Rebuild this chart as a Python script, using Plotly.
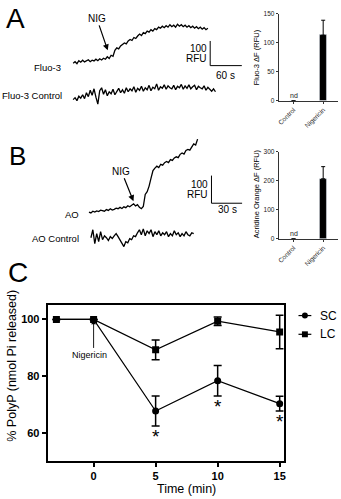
import plotly.graph_objects as go

W, H = 341, 499
FONT = "Liberation Sans"

# ---------------- data ----------------
# Panel A traces (RFU, sampled every fluo_dt seconds)
fluo_dt = 3.6
fluo3_rfu = [200, 206, 198, 210, 204, 212, 205, 208, 214, 206, 212, 209, 216, 210, 218, 213, 220, 216,
             226, 219, 232, 228, 252, 262, 258, 270, 276, 282, 278, 290, 296, 292, 304, 300, 310, 318,
             312, 324, 320, 330, 326, 336, 330, 340, 336, 346, 342, 350, 344, 352, 346, 356, 348, 354,
             346, 358, 350, 356, 348, 354, 346, 352, 344, 350, 342, 348, 340, 346, 338, 344, 336, 342]
fluo3_ctrl_rfu = [52, 60, 48, 66, 58, 72, 56, 80, 64, 90, 70, 96, 62, 34, 88, 100, 74, 92, 68, 84, 76, 94,
                  72, 86, 98, 80, 92, 78, 100, 84, 96, 88, 104, 82, 98, 90, 106, 86, 100, 92, 110, 88, 102,
                  96, 116, 90, 104, 98, 112, 94, 108, 100, 96, 110, 92, 106, 100, 114, 94, 108, 98, 112,
                  96, 104, 110, 92, 106, 100, 96, 108, 90, 102, 94, 86, 96, 84]
# Panel B traces (RFU, sampled every ao_dt seconds)
ao_dt = 1.9
ao_rfu = [157, 154, 160, 157, 161, 159, 164, 161, 160, 166, 163, 169, 164, 167, 171, 169, 174, 170, 176,
          173, 180, 176, 183, 187, 179, 184, 174, 169, 177, 221, 231, 251, 280, 307, 316, 323, 318, 330,
          327, 336, 340, 336, 347, 344, 353, 357, 354, 366, 371, 367, 380, 384, 381, 394, 404, 400, 421]
ao_ctrl_rfu = [64, 93, 43, 79, 50, 86, 57, 71, 64, 54, 68, 61, 71, 79, 68, 57, 43, 32, 50, 46, 61, 57, 71,
               68, 82, 93, 75, 96, 71, 89, 79, 93, 68, 86, 75, 89, 71, 82, 75, 86, 68, 79, 71, 89, 75, 82,
               68, 79, 71, 86, 75, 71, 82, 79]

# Scale bars
scale_rfu = 100
scale_a_s = 60
scale_b_s = 30

# Bar charts
bar_cats = ["Control", "Nigericin"]
fluo3_dF = [0, 113]
fluo3_dF_err = [None, 26]
ao_dF = [0, 207]
ao_dF_err = [None, 42]
fluo3_ticks = [0, 50, 100, 150]
ao_ticks = [0, 100, 200, 300]

# Panel C
time_min = [-3, 0, 5, 10, 15]
sc_polyp = [100, 100, 67.7, 78.4, 70.3]
sc_err = [0, 0, 5.3, 5.4, 2.6]
lc_polyp = [100, 100, 89.3, 99.4, 95.6]
lc_err = [0, 0, 3.5, 1.5, 5.9]
star_times = [5, 10, 15]
star_levels = [60.3, 70.8, 65.4]
c_xticks = [0, 5, 10, 15]
c_yticks = [60, 80, 100]


def px(x):
    return x / W


def py(y):
    return 1 - y / H


fig = go.Figure()
K = "black"

# ---- Panel A traces ----
fig.add_trace(go.Scatter(x=[i * fluo_dt for i in range(len(fluo3_rfu))], y=fluo3_rfu, mode="lines",
                         line=dict(color=K, width=1.3), xaxis="x", yaxis="y", showlegend=False))
fig.add_trace(go.Scatter(x=[i * fluo_dt for i in range(len(fluo3_ctrl_rfu))], y=fluo3_ctrl_rfu, mode="lines",
                         line=dict(color=K, width=1.3), xaxis="x", yaxis="y", showlegend=False))
# ---- Panel B traces ----
fig.add_trace(go.Scatter(x=[i * ao_dt for i in range(len(ao_rfu))], y=ao_rfu, mode="lines",
                         line=dict(color=K, width=1.3), xaxis="x2", yaxis="y2", showlegend=False))
fig.add_trace(go.Scatter(x=[(i + 1) * ao_dt for i in range(len(ao_ctrl_rfu))], y=ao_ctrl_rfu, mode="lines",
                         line=dict(color=K, width=1.3), xaxis="x2", yaxis="y2", showlegend=False))

# ---- Bars ----
fig.add_trace(go.Bar(x=bar_cats, y=fluo3_dF, width=0.25, marker_color=K,
                     error_y=dict(type="data", array=fluo3_dF_err, arrayminus=[None, 0], symmetric=False,
                                  color=K, thickness=1, width=2),
                     xaxis="x3", yaxis="y3", showlegend=False))
fig.add_trace(go.Bar(x=bar_cats, y=ao_dF, width=0.25, marker_color=K,
                     error_y=dict(type="data", array=ao_dF_err, arrayminus=[None, 0], symmetric=False,
                                  color=K, thickness=1, width=2),
                     xaxis="x4", yaxis="y4", showlegend=False))

# ---- Panel C ----
fig.add_trace(go.Scatter(x=time_min, y=lc_polyp, mode="lines+markers", name="LC",
                         line=dict(color=K, width=1.2), marker=dict(symbol="square", size=7, color=K),
                         error_y=dict(type="data", array=lc_err, color=K, thickness=1.5, width=4),
                         xaxis="x5", yaxis="y5", showlegend=False))
fig.add_trace(go.Scatter(x=time_min, y=sc_polyp, mode="lines+markers", name="SC",
                         line=dict(color=K, width=1.2), marker=dict(symbol="circle", size=7, color=K),
                         error_y=dict(type="data", array=sc_err, color=K, thickness=1.5, width=4),
                         xaxis="x5", yaxis="y5", showlegend=False))

hidden = dict(visible=False, showgrid=False, zeroline=False, fixedrange=True)
small = dict(family=FONT, size=6.5, color="#222")
c_tick = dict(family=FONT, size=11, color=K, weight="bold")

fig.update_layout(
    width=W, height=H, margin=dict(l=0, r=0, t=0, b=0),
    paper_bgcolor="white", plot_bgcolor="rgba(0,0,0,0)",
    font=dict(family=FONT, color=K),
    xaxis=dict(hidden, domain=[px(60), px(250)], range=[(60 - 72) * 1.875, (250 - 72) * 1.875], anchor="y"),
    yaxis=dict(hidden, domain=[py(110), py(10)], range=[0, 400], anchor="x"),
    xaxis2=dict(hidden, domain=[px(60), px(250)], range=[(60 - 88) * 0.968, (250 - 88) * 0.968], anchor="y2"),
    yaxis2=dict(hidden, domain=[py(255), py(125)], range=[0, 130 * 3.57], anchor="x2"),
    xaxis3=dict(domain=[px(280), px(340)], anchor="y3", type="category", range=[-0.5, 1.5],
                tickangle=-45, tickfont=small, showline=True, linecolor="#333", linewidth=1,
                ticks="outside", ticklen=2, tickcolor="#333", showgrid=False, zeroline=False),
    yaxis3=dict(domain=[py(98), py(10)], anchor="x3", range=[0, 150], tickvals=fluo3_ticks,
                tickfont=small, showline=True, linecolor="#333", linewidth=1, ticks="outside",
                ticklen=2, tickcolor="#333", showgrid=False, zeroline=False),
    xaxis4=dict(domain=[px(280), px(340)], anchor="y4", type="category", range=[-0.5, 1.5],
                tickangle=-45, tickfont=small, showline=True, linecolor="#333", linewidth=1,
                ticks="outside", ticklen=2, tickcolor="#333", showgrid=False, zeroline=False),
    yaxis4=dict(domain=[py(238), py(150)], anchor="x4", range=[0, 300], tickvals=ao_ticks,
                tickfont=small, showline=True, linecolor="#333", linewidth=1, ticks="outside",
                ticklen=2, tickcolor="#333", showgrid=False, zeroline=False),
    xaxis5=dict(domain=[px(47), px(285)], anchor="y5", range=[-3.64, 15.32], tickvals=c_xticks,
                tickfont=c_tick, showline=True, mirror=True, linecolor=K, linewidth=1.5,
                ticks="outside", ticklen=5, tickwidth=1.5, tickcolor=K, showgrid=False, zeroline=False),
    yaxis5=dict(domain=[py(463), py(305)], anchor="x5", range=[50.26, 105.2], tickvals=c_yticks,
                tickfont=c_tick, showline=True, mirror=True, linecolor=K, linewidth=1.5,
                ticks="outside", ticklen=5, tickwidth=1.5, tickcolor=K, showgrid=False, zeroline=False),
    bargap=0,
)

shapes = []
# scale bars, in data units
shapes.append(dict(type="line", xref="x", yref="y", x0=260, x1=260, y0=190, y1=190 + scale_rfu,
                   line=dict(color=K, width=1)))
shapes.append(dict(type="line", xref="x", yref="y", x0=260, x1=260 + scale_a_s, y0=190, y1=190,
                   line=dict(color=K, width=1)))
shapes.append(dict(type="line", xref="x2", yref="y2", x0=120, x1=120, y0=189, y1=189 + scale_rfu,
                   line=dict(color=K, width=1)))
shapes.append(dict(type="line", xref="x2", yref="y2", x0=120, x1=120 + scale_b_s, y0=189, y1=189,
                   line=dict(color=K, width=1)))
# manual legend
for yy, sym in [(316, "circle"), (335, "rect")]:
    shapes.append(dict(type="line", xref="paper", yref="paper", x0=px(300), x1=px(313), y0=py(yy), y1=py(yy),
                       line=dict(color=K, width=1.2)))
    shapes.append(dict(type=sym, xref="paper", yref="paper", x0=px(303.5), x1=px(309.5),
                       y0=py(yy + 3), y1=py(yy - 3), fillcolor=K, line=dict(color=K, width=0)))
fig.update_layout(shapes=shapes)

ann = []


def txt(x, y, t, size=10, xanchor="center", **kw):
    ann.append(dict(x=px(x), y=py(y), xref="paper", yref="paper", text=t, showarrow=False,
                    font=dict(family=FONT, size=size, color=K, weight="normal"),
                    xanchor=xanchor, yanchor="middle", **kw))


# panel letters
txt(14, 15, "A", 28)
txt(16, 154, "B", 26)
txt(16, 272, "C", 28)
# trace labels
txt(62, 64, "Fluo-3", 9.5, "right")
txt(63, 93, "Fluo-3 Control", 9.5, "right")
txt(80, 213, "AO", 9.5, "right")
txt(80, 238, "AO Control", 9.5, "right")
# scale labels
txt(209, 45, "100", 10, "right")
txt(209, 55, "RFU", 10, "right")
txt(226, 73, "60 s", 10)
txt(210, 183, "100", 10, "right")
txt(210, 193, "RFU", 10, "right")
txt(228, 208, "30 s", 10)
# NIG arrows
ann.append(dict(x=(107 - 72) * 1.875, y=252, xref="x", yref="y", text="NIG", showarrow=True,
                arrowhead=2, arrowsize=1, arrowwidth=1.2, arrowcolor=K, ax=-11, ay=-32,
                font=dict(family=FONT, size=10, color=K)))
ann.append(dict(x=(133 - 88) * 0.968, y=196, xref="x2", yref="y2", text="NIG", showarrow=True,
                arrowhead=2, arrowsize=1, arrowwidth=1.2, arrowcolor=K, ax=-12, ay=-30,
                font=dict(family=FONT, size=10, color=K)))
# bar chart titles / nd
txt(257, 54, "Fluo-3 ΔF (RFU)", 7.5, textangle=-90)
txt(257, 192, "Acridine Orange ΔF (RFU)", 7.5, textangle=-90)
ann.append(dict(x="Control", y=0, xref="x3", yref="y3", text="nd", showarrow=False, yanchor="bottom",
                font=dict(family=FONT, size=7, color="#222")))
ann.append(dict(x="Control", y=0, xref="x4", yref="y4", text="nd", showarrow=False, yanchor="bottom",
                font=dict(family=FONT, size=7, color="#222")))
# panel C texts
txt(10, 367, "% PolyP (nmol Pi released)", 12.5, textangle=-90)
txt(187, 492, "Time (min)", 12.5)
txt(320, 316, "SC", 12, "left")
txt(320, 335, "LC", 12, "left")
ann.append(dict(x=0, y=99.3, xref="x5", yref="y5", text="", showarrow=True, arrowhead=1, arrowsize=1,
                arrowwidth=0.9, arrowcolor=K, ax=0, ay=28))
ann.append(dict(x=-0.37, y=87.5, xref="x5", yref="y5", text="Nigericin", showarrow=False,
                font=dict(family=FONT, size=9, color=K)))
for t, lv in zip(star_times, star_levels):
    ann.append(dict(x=t, y=lv, xref="x5", yref="y5", text="*", showarrow=False, yanchor="middle",
                    yshift=-4, font=dict(family=FONT, size=19, color=K)))

fig.update_layout(annotations=ann)
fig.write_html("out.html")
